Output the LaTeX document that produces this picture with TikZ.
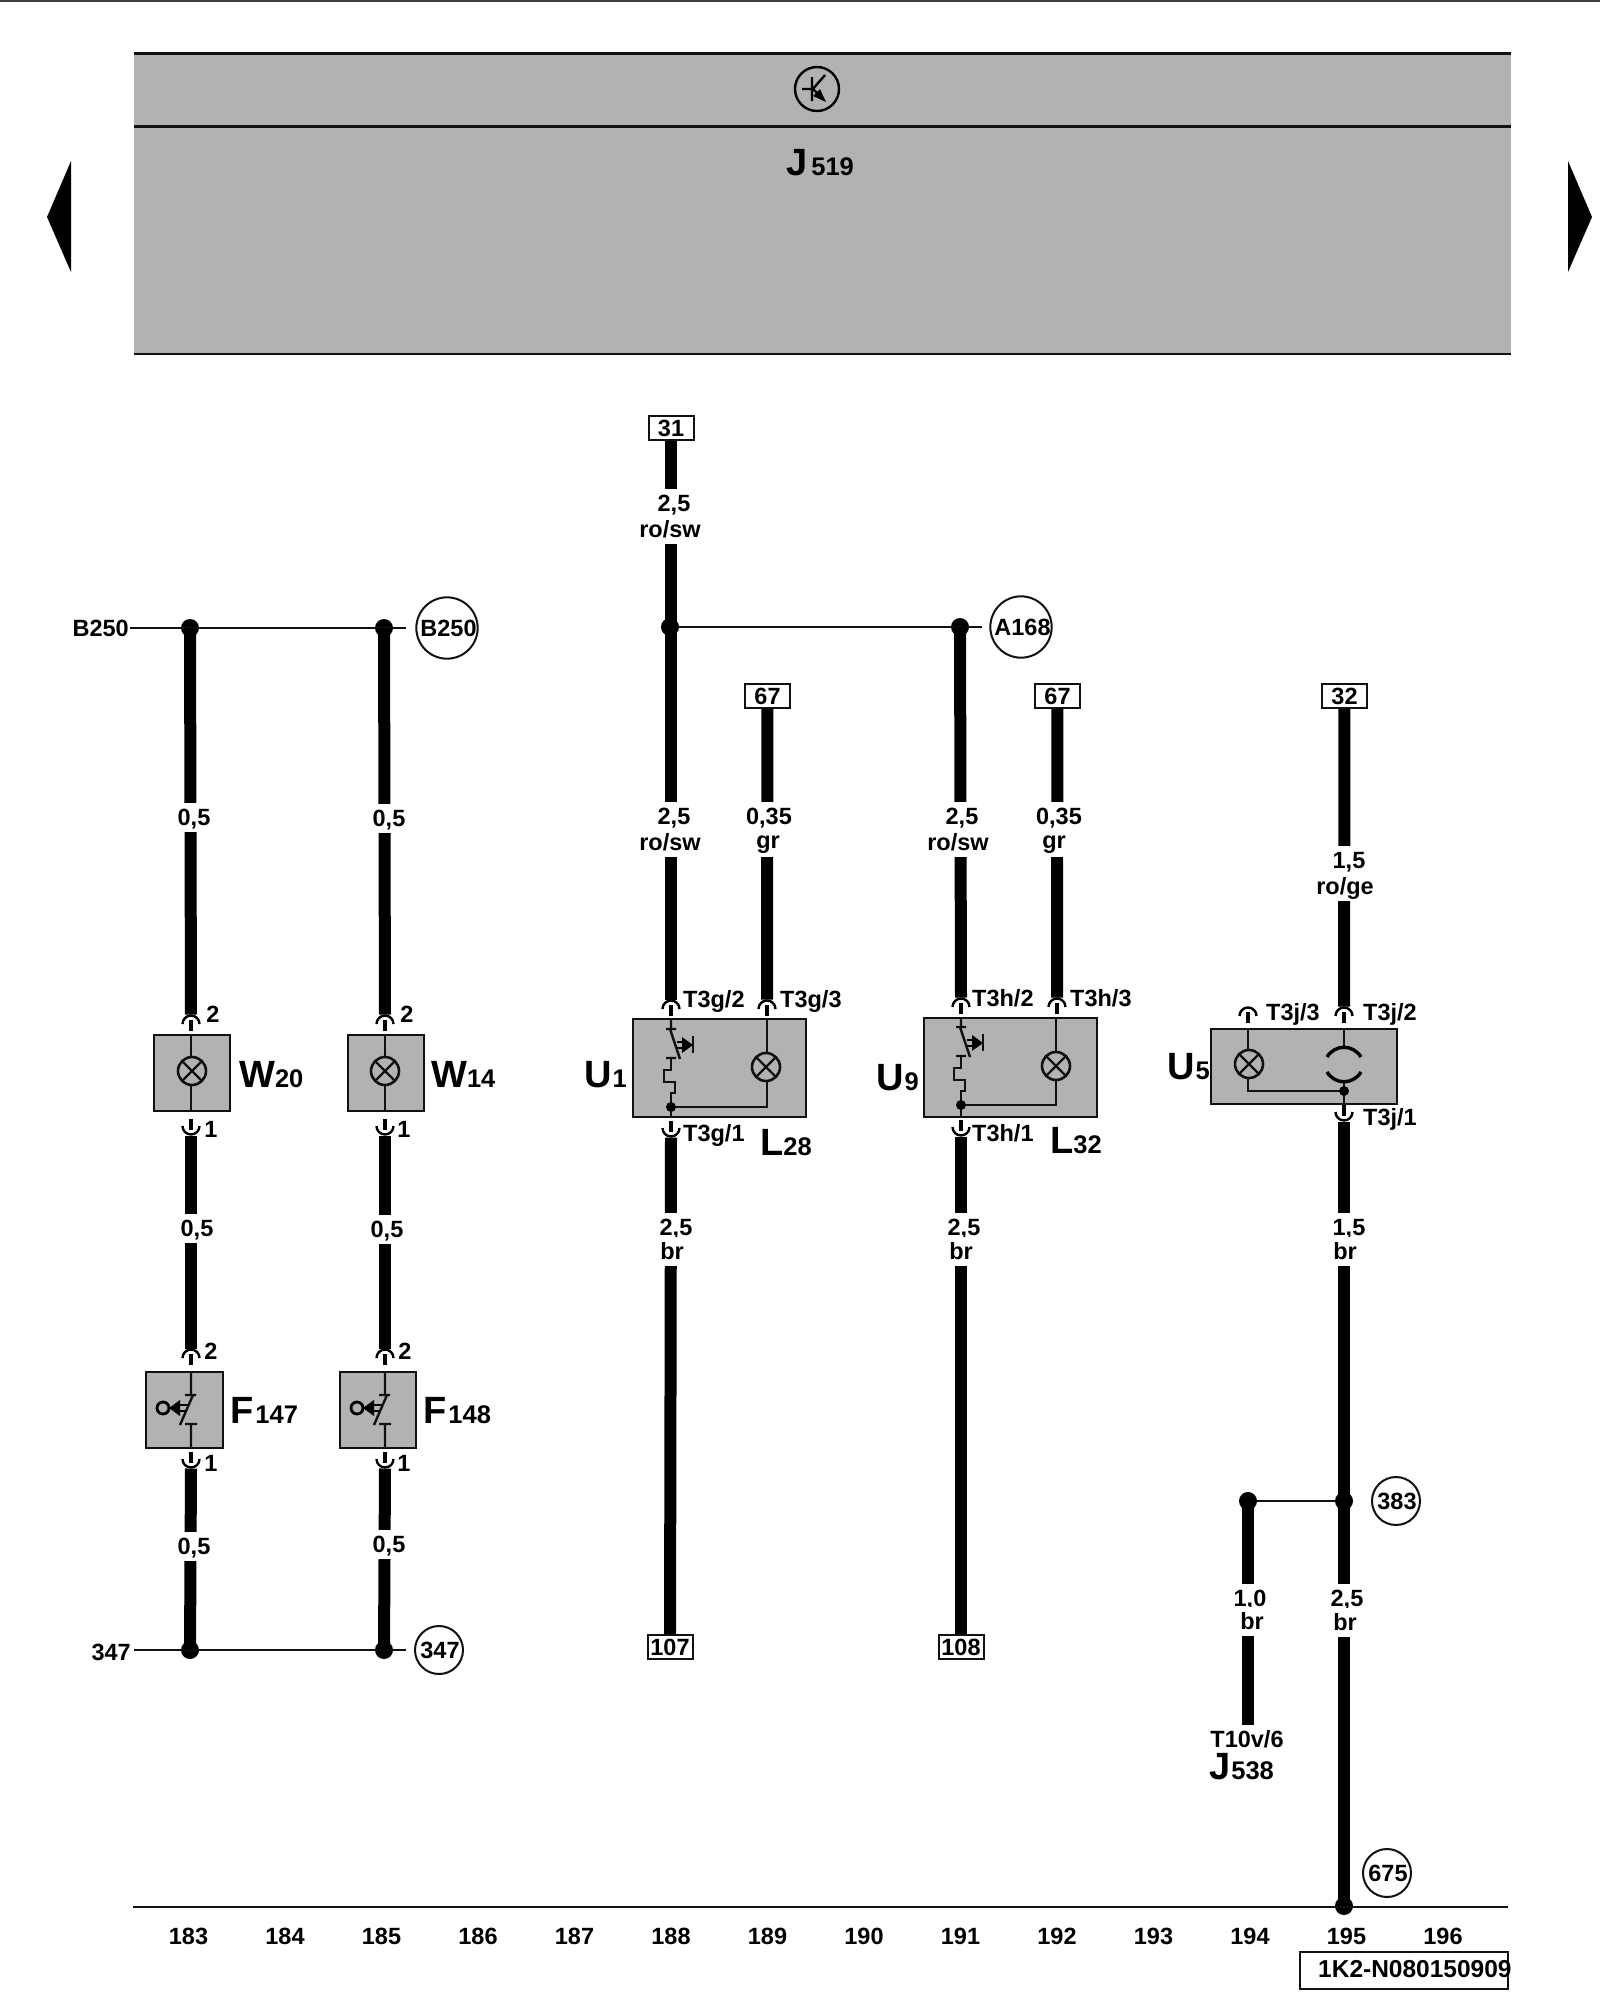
\documentclass[tikz,border=0pt]{standalone}
\usepackage{fontspec}
\setmainfont{Liberation Sans}
\newfontfamily\labfont{Liberation Sans Bold}
\definecolor{compgray}{HTML}{B2B2B2}
\definecolor{inkdark}{HTML}{111111}
\newcommand{\lsize}{\labfont\fontsize{23.5}{24}\selectfont}
\newcommand{\comp}[3][0pt]{{\labfont\fontsize{38}{38}\selectfont #2}\kern#1{\labfont\fontsize{25.5}{26}\selectfont #3}}
\tikzset{
  wire/.style={line width=12pt,draw=black,line cap=butt},
  thinw/.style={line width=2.4pt,draw=inkdark},
  stemw/.style={line width=4.5pt,draw=black},
  part/.style={draw=inkdark,line width=2pt,fill=compgray},
  dotn/.style={circle,fill=black,inner sep=0pt,minimum size=18pt},
  smalldot/.style={circle,fill=black,inner sep=0pt,minimum size=10pt},
  wlabel/.style={fill=white,inner sep=0pt,minimum height=29pt,font=\lsize,text depth=0pt},
  ptext/.style={inner sep=0pt,font=\lsize,anchor=west},
  ctext/.style={inner sep=0pt,font=\lsize},
  compname/.style={inner sep=0pt,anchor=base west},
  termbox/.style={draw=inkdark,line width=2pt,fill=white,inner sep=0pt,minimum width=45pt,minimum height=24pt,font=\lsize},
  refcirc/.style={circle,draw=inkdark,line width=2pt,fill=white,inner sep=0pt,font=\lsize},
}
% pin opening downwards (connector on top of a part)
\newcommand{\pinT}[3]{\coordinate (#1) at (#2,#3-8.5);
  \draw[line width=2.4pt,draw=black] (#2-8.5,#3+1) arc[start angle=180,end angle=360,radius=8.5];
  \draw[stemw] (#2,#3-3) -- (#2,#3+8);}
% pin opening upwards (connector under a part)
\newcommand{\pinB}[3]{\coordinate (#1) at (#2,#3+8.5);
  \draw[line width=2.4pt,draw=black] (#2-8.5,#3-1) arc[start angle=180,end angle=0,radius=8.5];
  \draw[stemw] (#2,#3-8) -- (#2,#3+3);}
\newcommand{\lamp}[2]{\draw[line width=2.6pt,draw=inkdark,fill=compgray] (#1,#2) circle[radius=14];
  \draw[line width=2.2pt,draw=inkdark] (#1-10,#2-10) -- (#1+10,#2+10) (#1-10,#2+10) -- (#1+10,#2-10);}
% limit switch with pressure actuator (F parts)
\newcommand{\fswitch}[2]{%
  \draw[thinw] (#1,1372) -- (#1,1395) (#1-6,1395) -- (#1+5,1395) (#1+2,1395) -- (#1-11,1425) (#1-6,1424) -- (#1+6,1424) (#1,1424) -- (#1,1448);
  \draw[line width=2.8pt,draw=black] (#1-28,1408) circle[radius=6];
  \fill[black] (#1-22,1408) -- (#1-11,1400) -- (#1-11,1416) -- cycle;
  \draw[line width=1.8pt,draw=black] (#1-13,1405) -- (#1-3,1405) (#1-13,1411) -- (#1-5,1411);}
% switch and heater of the U parts, x of wire and y offset
\newcommand{\uswitch}[2]{%
  \draw[thinw] (#1,#2+1019) -- (#1,#2+1029) (#1-5,#2+1029) -- (#1+5,#2+1029) (#1-1,#2+1029) -- (#1+9,#2+1059) (#1-5,#2+1058) -- (#1+5,#2+1058);
  \draw[thinw] (#1,#2+1058) -- (#1,#2+1070) -- (#1-7,#2+1070) -- (#1-7,#2+1082) -- (#1+4,#2+1082) -- (#1+4,#2+1093) -- (#1,#2+1093) -- (#1,#2+1107);
  \draw[line width=1.8pt,draw=black] (#1+6,#2+1042) -- (#1+13,#2+1042) (#1+6,#2+1048) -- (#1+13,#2+1048);
  \fill[black] (#1+22,#2+1045) -- (#1+11,#2+1037) -- (#1+11,#2+1053) -- cycle;
  \draw[thinw] (#1+22,#2+1036) -- (#1+22,#2+1053);}
\begin{document}
\begin{tikzpicture}[x=1pt,y=-1pt]
\useasboundingbox (0,0) rectangle (1600,2000);
\draw[line width=2pt,draw=black!75] (0,1) -- (1600,1);

% control unit band
\fill[compgray] (134,53) rectangle (1511,354);
\draw[line width=2.6pt,draw=inkdark] (134,53.5) -- (1511,53.5) (134,126.5) -- (1511,126.5) (134,354) -- (1511,354);
\draw[line width=2.4pt,draw=black] (817,89) circle[radius=22];
\draw[line width=2.4pt,draw=black] (802,89) -- (812,89) (812,77) -- (812,101) (825,75) -- (812,90);
\draw[line width=2.2pt,draw=black] (812,88) -- (820,96);
\fill[black] (826,102) -- (813,96) -- (820,89) -- cycle;
\node[compname] (j519) at (786,175) {\comp[4pt]{J}{519}};
\fill[black] (47,217) -- (71,161) -- (71,272) -- cycle;
\fill[black] (1592,217) -- (1568,161) -- (1568,272) -- cycle;

% parts
\node[part,minimum width=76pt,minimum height=76pt,inner sep=0pt] (W20) at (192,1073) {};
\node[part,minimum width=76pt,minimum height=76pt,inner sep=0pt] (W14) at (386,1073) {};
\node[part,minimum width=77pt,minimum height=76pt,inner sep=0pt] (F147) at (184.5,1410) {};
\node[part,minimum width=76pt,minimum height=76pt,inner sep=0pt] (F148) at (378,1410) {};
\node[part,minimum width=173pt,minimum height=98pt,inner sep=0pt] (U1) at (719.5,1068) {};
\node[part,minimum width=173pt,minimum height=99pt,inner sep=0pt] (U9) at (1010.5,1067.5) {};
\node[part,minimum width=186pt,minimum height=75pt,inner sep=0pt] (U5) at (1304,1066.5) {};

% internals
\draw[thinw] (191,1035) -- (191,1111);
\lamp{192}{1071}
\draw[thinw] (385,1035) -- (385,1111);
\lamp{385}{1071}
\fswitch{191}{0}
\fswitch{385}{0}
\uswitch{671}{0}
\uswitch{961}{-2}
\draw[thinw] (767,1019) -- (767,1107) -- (671,1107);
\lamp{766}{1067}
\draw[thinw] (1056,1018) -- (1056,1105) -- (961,1105);
\lamp{1056}{1066}
\node[smalldot] (JU1) at (671,1107) {};
\node[smalldot] (JU9) at (961,1105) {};
\draw[thinw] (JU1) -- (671,1117);
\draw[thinw] (JU9) -- (961,1117);
\draw[thinw] (1248,1029) -- (1248,1091) -- (1344,1091);
\lamp{1249}{1064}
\draw[thinw] (1344,1029) -- (1344,1047) (1344,1082) -- (1344,1104);
\draw[line width=3.4pt,draw=black] (1327,1057) .. controls (1335,1044) and (1353,1044) .. (1361,1057);
\draw[line width=3.4pt,draw=black] (1327,1072) .. controls (1335,1085) and (1353,1085) .. (1361,1072);
\node[smalldot] (JU5) at (1344,1091) {};

% pins
\pinT{pW20t}{191}{1023}
\pinB{pW20b}{191}{1127}
\pinT{pW14t}{385}{1023}
\pinB{pW14b}{385}{1127}
\pinT{pF147t}{191}{1357}
\pinB{pF147b}{191}{1460}
\pinT{pF148t}{385}{1357}
\pinB{pF148b}{385}{1460}
\pinT{pU1a}{671}{1008}
\pinT{pU1b}{767}{1008}
\pinB{pU1c}{671}{1129}
\pinT{pU9a}{961}{1006}
\pinT{pU9b}{1057}{1006}
\pinB{pU9c}{961}{1128}
\pinT{pU5c}{1248}{1015}
\pinT{pU5a}{1344}{1015}
\pinB{pU5b}{1344}{1113}

% end terminals and reference circles
\node[termbox] (t31) at (671,428) {31};
\node[termbox] (t107) at (670,1647) {107};
\node[termbox] (t108) at (961,1647) {108};
\node[termbox] (t67a) at (767.5,696) {67};
\node[termbox] (t67b) at (1057.5,696) {67};
\node[termbox] (t32) at (1344.5,696) {32};
\node[refcirc,minimum size=61pt] (cB250) at (447,628) {\kern3pt B250};
\node[refcirc,minimum size=61pt] (cA168) at (1021,627) {\kern3pt A168};
\node[refcirc,minimum size=48pt] (c347) at (439,1650) {\kern2pt 347};
\node[refcirc,minimum size=48pt] (c383) at (1396,1501) {\kern2pt 383};
\node[refcirc,minimum size=48pt] (c675) at (1387,1873) {\kern2pt 675};

% free ends and junctions
\coordinate (bL) at (130,628);
\coordinate (bR) at (406,628);
\coordinate (aR) at (982,627);
\coordinate (gL) at (134,1650);
\coordinate (gR) at (406,1650);
\coordinate (baseL) at (133,1907);
\coordinate (baseR) at (1508,1907);
\coordinate (j538end) at (1248,1725);
\node[dotn] (jb1) at (190,628) {};
\node[dotn] (jb2) at (384,628) {};
\node[dotn] (ja1) at (670,627) {};
\node[dotn] (ja2) at (960,627) {};
\node[dotn] (jg1) at (190,1650) {};
\node[dotn] (jg2) at (384,1650) {};
\node[dotn] (jh1) at (1248,1501) {};
\node[dotn] (jh2) at (1344,1501) {};
\node[dotn] (jz) at (1344,1906) {};

% thin links
\draw[thinw] (bL) -- (bR);
\draw[thinw] (ja1) -- (aR);
\draw[thinw] (gL) -- (gR);
\draw[thinw] (jh1) -- (jh2);
\draw[thinw] (baseL) -- (baseR);

% heavy wires
\draw[wire] (jb1.center) -- (pW20t);
\draw[wire] (pW20b) -- (pF147t);
\draw[wire] (pF147b) -- (jg1.center);
\draw[wire] (jb2.center) -- (pW14t);
\draw[wire] (pW14b) -- (pF148t);
\draw[wire] (pF148b) -- (jg2.center);
\draw[wire] (t31) -- (pU1a);
\draw[wire] (t67a) -- (pU1b);
\draw[wire] (pU1c) -- (t107);
\draw[wire] (ja2.center) -- (pU9a);
\draw[wire] (t67b) -- (pU9b);
\draw[wire] (pU9c) -- (t108);
\draw[wire] (t32) -- (pU5a);
\draw[wire] (pU5b) -- (jz.center);
\draw[wire] (jh1.center) -- (j538end);
\node[termbox] at (t31) {31};
\node[termbox] at (t107) {107};
\node[termbox] at (t108) {108};
\node[termbox] at (t67a) {67};
\node[termbox] at (t67b) {67};
\node[termbox] at (t32) {32};

% wire labels
\node[wlabel] (l1) at (194,817) {0,5};
\node[wlabel] (l2) at (389,818) {0,5};
\node[wlabel] (l3) at (197,1228) {0,5};
\node[wlabel] (l4) at (387,1229) {0,5};
\node[wlabel] (l5) at (194,1546) {0,5};
\node[wlabel] (l6) at (389,1544) {0,5};
\node[wlabel] (l7) at (674,503) {2,5};
\node[wlabel] (l8) at (670,529) {ro/sw};
\node[wlabel] (l9) at (674,816) {2,5};
\node[wlabel] (l10) at (670,842) {ro/sw};
\node[wlabel] (l11) at (769,816) {0,35};
\node[wlabel] (l12) at (768,842) {gr};
\node[wlabel] (l13) at (962,816) {2,5};
\node[wlabel] (l14) at (958,842) {ro/sw};
\node[wlabel] (l15) at (1059,816) {0,35};
\node[wlabel] (l16) at (1054,842) {gr};
\node[wlabel] (l17) at (1349,860) {1,5};
\node[wlabel] (l18) at (1345,886) {ro/ge};
\node[wlabel] (l19) at (676,1227) {2,5};
\node[wlabel] (l20) at (672,1251) {br};
\node[wlabel] (l21) at (964,1227) {2,5};
\node[wlabel] (l22) at (961,1251) {br};
\node[wlabel] (l23) at (1349,1227) {1,5};
\node[wlabel] (l24) at (1345,1251) {br};
\node[wlabel] (l25) at (1250,1598) {1,0};
\node[wlabel] (l26) at (1252,1621) {br};
\node[wlabel] (l27) at (1347,1598) {2,5};
\node[wlabel] (l28) at (1345,1622) {br};

% pin numbers
\node[ctext] (n1) at (213,1014) {2};
\node[ctext] (n2) at (211,1129) {1};
\node[ctext] (n3) at (407,1014) {2};
\node[ctext] (n4) at (404,1129) {1};
\node[ctext] (n5) at (211,1351) {2};
\node[ctext] (n6) at (211,1463) {1};
\node[ctext] (n7) at (405,1351) {2};
\node[ctext] (n8) at (404,1463) {1};
\node[ptext] (n9) at (683,1001) {T3g/2};
\node[ptext] (n10) at (780,1001) {T3g/3};
\node[ptext] (n11) at (683,1135) {T3g/1};
\node[ptext] (n12) at (972,998) {T3h/2};
\node[ptext] (n13) at (1070,998) {T3h/3};
\node[ptext] (n14) at (972,1133) {T3h/1};
\node[ptext] (n15) at (1266,1014) {T3j/3};
\node[ptext] (n16) at (1363,1014) {T3j/2};
\node[ptext] (n17) at (1363,1119) {T3j/1};

% part names
\node[compname] (nW20) at (239,1087) {\comp{W}{20}};
\node[compname] (nW14) at (431,1087) {\comp{W}{14}};
\node[compname] (nF147) at (230,1423) {\comp[2pt]{F}{147}};
\node[compname] (nF148) at (423,1423) {\comp[2pt]{F}{148}};
\node[compname] (nU1) at (584,1087) {\comp[1pt]{U}{1}};
\node[compname] (nU9) at (876,1090) {\comp[1pt]{U}{9}};
\node[compname] (nU5) at (1167,1079) {\comp[1pt]{U}{5}};
\node[compname] (nL28) at (760,1155) {\comp{L}{28}};
\node[compname] (nL32) at (1050,1153) {\comp{L}{32}};
\node[compname] (nJ538) at (1209,1779) {\comp[1pt]{J}{538}};
\node[ctext] (t10v) at (1247,1739) {T10v/6};

% outer labels
\node[ctext,anchor=east] (lB250) at (129,628) {B250};
\node[ctext,anchor=east] (l347) at (131,1652) {347};

% path numbers
\foreach \n [count=\i from 0] in {183,...,196}
  \node[ctext] (col\n) at ({188.5+96.5*\i},1936) {\n};

% document number
\node[draw=inkdark,line width=2pt,fill=none,inner sep=0pt,minimum width=208pt,minimum height=37pt] (docbox) at (1404,1970.5) {};
\node[inner sep=0pt,anchor=west,font=\labfont\fontsize{24.5}{25}\selectfont] (docnum) at (1318,1969) {1K2-N080150909};
\end{tikzpicture}
\end{document}
